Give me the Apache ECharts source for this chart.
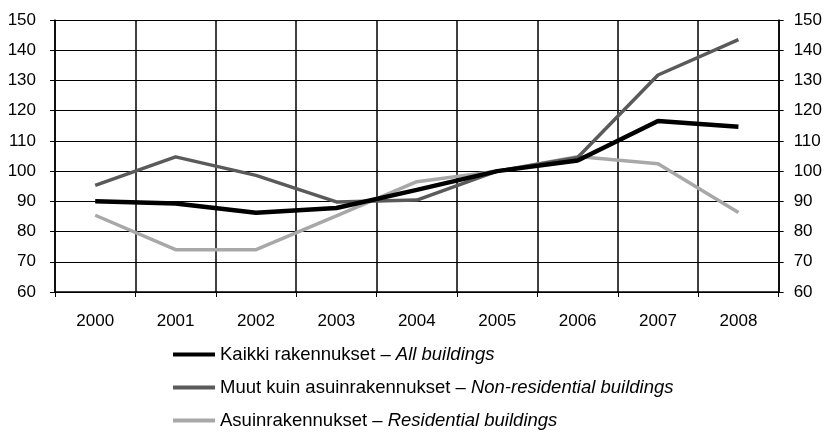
<!DOCTYPE html>
<html>
<head>
<meta charset="utf-8">
<script src="https://cdn.jsdelivr.net/npm/echarts@6/dist/echarts.min.js"></script>
<style>
    body { margin: 0; background: #fff; }
    #chart { width: 825px; height: 436px; }
</style>
</head>
<body>
<div id="chart"></div>
<script>
// vuodet / years
var years = ['2000', '2001', '2002', '2003', '2004', '2005', '2006', '2007', '2008'];
// Kaikki rakennukset - All buildings
var allBuildings = [90, 89.3, 86.2, 87.8, 93.8, 100, 103.5, 116.6, 114.7];
// Muut kuin asuinrakennukset - Non-residential buildings
var nonResidential = [95.3, 104.7, 98.6, 89.8, 90.4, 100, 104.5, 131.8, 143.5];
// Asuinrakennukset - Residential buildings
var residential = [85.4, 74, 74, 85.2, 96.5, 100, 104.8, 102.4, 86.3];

var yMin = 60, yMax = 150, yStep = 10;

var names = [
    ['Kaikki rakennukset', 'All buildings'],
    ['Muut kuin asuinrakennukset', 'Non-residential buildings'],
    ['Asuinrakennukset', 'Residential buildings']
];

var myChart = echarts.init(document.getElementById('chart'));
var font = '"Liberation Sans", Arial, sans-serif';

function serie(i, data, color, width) {
    return {
        name: names[i][0],
        type: 'line',
        data: data,
        symbol: 'none',
        lineStyle: { color: color, width: width },
        itemStyle: { color: color },
        z: 10 - i
    };
}

var option = {
    animation: false,
    textStyle: { fontFamily: font },
    grid: { left: 55, right: 46, top: 20, bottom: 144 },
    xAxis: {
        type: 'category',
        data: years,
        boundaryGap: true,
        axisLine: { lineStyle: { color: '#000', width: 1.5 } },
        axisTick: { show: true, length: 5, lineStyle: { color: '#000' } },
        splitLine: { show: true, lineStyle: { color: '#000', width: 1.5 } },
        axisLabel: { color: '#000', fontSize: 17, margin: 21, fontFamily: font }
    },
    yAxis: [{
        type: 'value',
        min: yMin, max: yMax, interval: yStep,
        position: 'left',
        axisLine: { show: true, lineStyle: { color: '#000', width: 1.5 } },
        axisTick: { show: true, length: 5, lineStyle: { color: '#000' } },
        splitLine: { show: true, lineStyle: { color: '#000', width: 1.2 } },
        axisLabel: { color: '#000', fontSize: 17, margin: 19, fontFamily: font }
    }, {
        type: 'value',
        min: yMin, max: yMax, interval: yStep,
        position: 'right',
        axisLine: { show: true, lineStyle: { color: '#000', width: 1.5 } },
        axisTick: { show: true, length: 5, lineStyle: { color: '#000' } },
        splitLine: { show: false },
        axisLabel: { color: '#000', fontSize: 17, margin: 15, fontFamily: font }
    }],
    legend: {
        orient: 'vertical',
        left: 173,
        top: 345,
        padding: 0,
        itemWidth: 42,
        itemHeight: 4,
        itemGap: 14,
        icon: 'rect',
        data: names.map(function (n) { return n[0]; }),
        formatter: function (name) {
            for (var i = 0; i < names.length; i++) {
                if (names[i][0] === name) {
                    return '{a|' + names[i][0] + ' – }{b|' + names[i][1] + '}';
                }
            }
            return name;
        },
        textStyle: {
            color: '#000',
            fontSize: 18.5,
            fontFamily: font,
            rich: {
                a: { fontSize: 18.5, color: '#000', fontFamily: font, lineHeight: 18 },
                b: { fontSize: 18.5, color: '#000', fontFamily: font, fontStyle: 'italic', lineHeight: 18 }
            }
        }
    },
    series: [
        serie(0, allBuildings, '#000000', 4.5),
        serie(1, nonResidential, '#5a5a5a', 3.5),
        serie(2, residential, '#a8a8a8', 3.5)
    ]
};

myChart.setOption(option, true);
</script>
</body>
</html>
